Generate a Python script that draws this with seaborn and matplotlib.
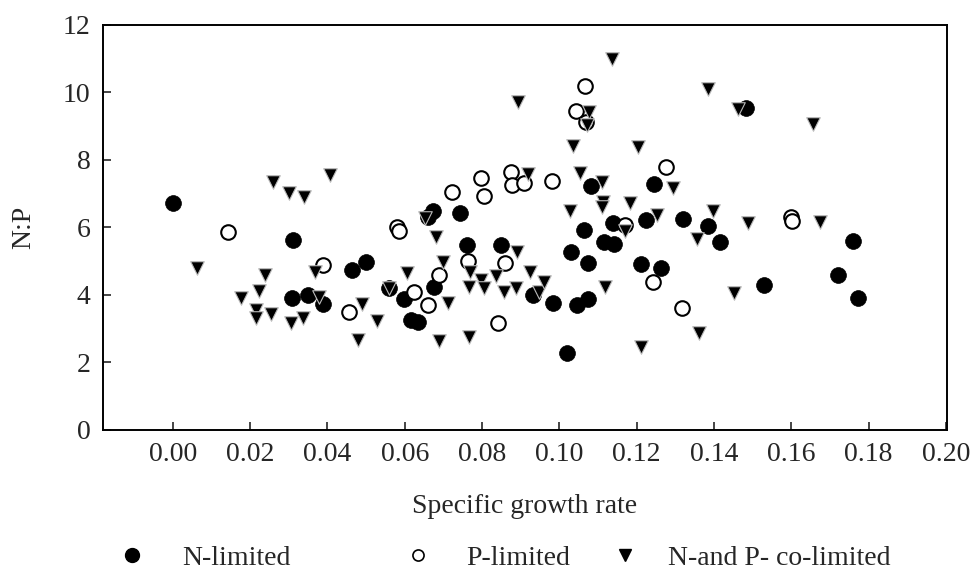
import pandas as pd
import matplotlib
matplotlib.use('Agg')
import matplotlib.pyplot as plt
import seaborn as sns
from matplotlib.lines import Line2D

# ---------------------------------------------------------
# Data (growth rate, N:P)
# ---------------------------------------------------------
n_lim_x = [0.000, 0.031, 0.0307, 0.035, 0.0388, 0.0463, 0.0499, 0.056, 0.0598, 0.0617,
           0.0634, 0.0675, 0.066, 0.0673, 0.0743, 0.076, 0.0849, 0.0932, 0.0983, 0.102,
           0.103, 0.1045, 0.1074, 0.1074, 0.1063, 0.1082, 0.1115, 0.1141, 0.114, 0.121,
           0.1224, 0.1245, 0.1263, 0.132, 0.1384, 0.1415, 0.1483, 0.153, 0.172, 0.176,
           0.1772]
n_lim_y = [6.72, 5.63, 3.91, 4.00, 3.72, 4.74, 4.97, 4.22, 3.88, 3.26,
           3.20, 4.24, 6.30, 6.50, 6.42, 5.48, 5.48, 4.00, 3.76, 2.28,
           5.27, 3.70, 3.88, 4.95, 5.92, 7.22, 5.57, 5.50, 6.12, 4.93,
           6.22, 7.30, 4.80, 6.25, 6.04, 5.56, 9.55, 4.30, 4.59, 5.60,
           3.91]

p_lim_x = [0.0142, 0.0389, 0.0455, 0.058, 0.0585, 0.0624, 0.066, 0.0689, 0.0722, 0.0764,
           0.0797, 0.0805, 0.0841, 0.0859, 0.0874, 0.0877, 0.0908, 0.098, 0.1043, 0.1066,
           0.107, 0.117, 0.1242, 0.1276, 0.1317, 0.160, 0.1601]
p_lim_y = [5.87, 4.88, 3.50, 6.00, 5.90, 4.09, 3.70, 4.59, 7.06, 5.00,
           7.47, 6.93, 3.17, 4.96, 7.64, 7.26, 7.32, 7.38, 9.45, 10.20,
           9.12, 6.07, 4.39, 7.80, 3.62, 6.30, 6.18]

co_lim_x = [0.0062, 0.0175, 0.0223, 0.0216, 0.0216, 0.0238, 0.0255, 0.026, 0.030, 0.0305,
            0.0337, 0.034, 0.0367, 0.0378, 0.0406, 0.0479, 0.0488, 0.0527, 0.0559, 0.0606,
            0.0652, 0.068, 0.0689, 0.070, 0.0712, 0.0766, 0.0768, 0.0766, 0.0797, 0.0805,
            0.0836, 0.0856, 0.0887, 0.089, 0.0893, 0.0918, 0.0924, 0.0947, 0.096, 0.1027,
            0.1035, 0.1053, 0.1076, 0.1072, 0.111, 0.1113, 0.111, 0.1118, 0.1136, 0.117,
            0.1183, 0.1203, 0.1211, 0.1252, 0.1294, 0.1356, 0.1361, 0.1384, 0.1397, 0.1452,
            0.1462, 0.1488, 0.1656, 0.1674]
co_lim_y = [4.80, 3.91, 4.12, 3.55, 3.33, 4.59, 3.44, 7.35, 7.02, 3.17,
            3.32, 6.90, 4.68, 3.95, 7.55, 2.67, 3.73, 3.23, 4.20, 4.65,
            6.28, 5.73, 2.64, 4.98, 3.76, 2.76, 4.68, 4.24, 4.44, 4.21,
            4.56, 4.09, 4.21, 5.27, 9.73, 7.58, 4.68, 4.10, 4.38, 6.50,
            8.41, 7.62, 9.43, 9.04, 7.35, 6.76, 6.60, 4.24, 10.99, 5.90,
            6.74, 8.39, 2.46, 6.37, 7.17, 5.67, 2.87, 10.10, 6.50, 4.06,
            9.50, 6.13, 9.07, 6.16]

labels = ['N-limited', 'P-limited', 'N-and P- co-limited']
x_ticks = [0.00, 0.02, 0.04, 0.06, 0.08, 0.10, 0.12, 0.14, 0.16, 0.18, 0.20]
y_ticks = [0, 2, 4, 6, 8, 10, 12]

df = pd.concat([
    pd.DataFrame({'rate': n_lim_x, 'np': n_lim_y, 'group': labels[0]}),
    pd.DataFrame({'rate': p_lim_x, 'np': p_lim_y, 'group': labels[1]}),
    pd.DataFrame({'rate': co_lim_x, 'np': co_lim_y, 'group': labels[2]}),
])

# ---------------------------------------------------------
# Plot
# ---------------------------------------------------------
sns.set_style('ticks')
plt.rcParams['font.family'] = ['Liberation Serif', 'DejaVu Serif']
plt.rcParams['font.size'] = 20

fig = plt.figure(figsize=(9.74, 5.77), dpi=100)
ax = fig.add_axes([0.1057, 0.2548, 0.8666, 0.7019])

sns.scatterplot(data=df[df.group == labels[0]], x='rate', y='np', ax=ax,
                marker='o', s=130, color='black', edgecolor='black', linewidth=0.5,
                legend=False, zorder=3)
sns.scatterplot(data=df[df.group == labels[1]], x='rate', y='np', ax=ax,
                marker='o', s=110, facecolor='white', edgecolor='black', linewidth=1.5,
                legend=False, zorder=4)
sns.scatterplot(data=df[df.group == labels[2]], x='rate', y='np', ax=ax,
                marker='v', s=95, color='black', edgecolor='#bbbbbb', linewidth=0.8,
                legend=False, zorder=5)

ax.set_xlim(-0.0181, 0.2003)
ax.set_ylim(0, 12)
ax.set_xticks(x_ticks)
ax.set_xticklabels([f'{t:.2f}' for t in x_ticks])
ax.set_yticks(y_ticks)
ax.tick_params(direction='in', length=5.5, width=1.2, labelsize=20, pad=9,
               top=False, right=False)
for sp in ax.spines.values():
    sp.set_linewidth(1.4)
    sp.set_color('black')

ax.set_xlabel('Specific growth rate', fontsize=20)
ax.set_ylabel('N:P', fontsize=20)
ax.xaxis.set_label_coords(0.5, -0.19)
ax.xaxis.label.set_va('center')
ax.yaxis.set_label_coords(-0.094, 0.5)
ax.yaxis.label.set_va('center')

# legend entries spread along the bottom like the original
handles = [
    Line2D([], [], ls='none', marker='o', ms=10, mfc='black', mec='black'),
    Line2D([], [], ls='none', marker='o', ms=8, mfc='white', mec='black', mew=1.2),
    Line2D([], [], ls='none', marker='v', ms=8, mfc='black', mec='black'),
]
lefts = [118, 404, 611]
text_pads = [1.3, 1.25, 1.05]
for h, lab, lx, tp in zip(handles, labels, lefts, text_pads):
    fig.legend([h], [lab], loc='center left',
               bbox_to_anchor=(lx / 974, 19 / 577), frameon=False,
               handlelength=1.0, handletextpad=tp, borderpad=0,
               borderaxespad=0, fontsize=20)

fig.savefig('out.png', dpi=100)
